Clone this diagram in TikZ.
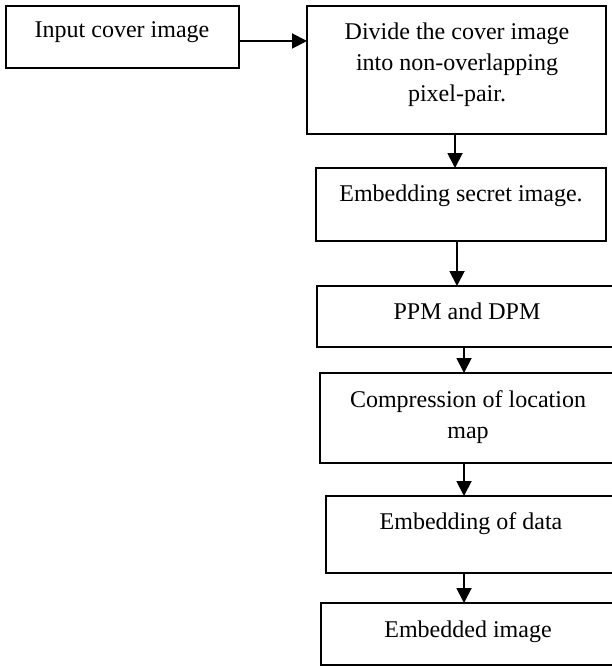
\documentclass[tikz,border=0pt]{standalone}
\usepackage{fontspec}
\setmainfont{Liberation Serif}
\usetikzlibrary{arrows.meta}
\begin{document}
\begin{tikzpicture}[x=1pt,y=-1pt,
  box/.style={draw,line width=1.9pt,minimum width=#1,inner sep=0pt,outer sep=0pt},
  lbl/.style={font=\fontsize{24}{31}\selectfont,inner sep=0pt,anchor=base,align=center},
  arr/.style={line width=1.9pt,-{Triangle[length=15pt,width=15pt]}}]
\useasboundingbox (0,0) rectangle (612,666);
\clip (0,0) rectangle (612,666);
\fill[white] (0,0) rectangle (612,666);
% boxes
\node[box=233pt,minimum height=62pt] (b1) at (122.5,37) {};
\node[box=299pt,minimum height=128pt] (b2) at (456.5,70) {};
\node[box=290pt,minimum height=73pt] (b3) at (461,204.5) {};
\node[box=301pt,minimum height=61pt] (b4) at (467.5,316.5) {};
\node[box=298pt,minimum height=90pt] (b5) at (469,418) {};
\node[box=292pt,minimum height=77pt] (b6) at (472,534.5) {};
\node[box=297pt,minimum height=62pt] (b7) at (469.5,634) {};
% texts
\node[lbl] (t1) at (122,38) {Input cover image};
\node[lbl] (t2) at (457,102) {Divide the cover image\\into non-overlapping\\pixel-pair.};
\node[lbl] (t3) at (461,201) {Embedding secret image.};
\node[lbl] (t4) at (467,319) {PPM and DPM};
\node[lbl] (t5) at (468,438) {Compression of location\\map};
\node[lbl] (t6) at (471,529) {Embedding of data};
\node[lbl] (t7) at (468,637) {Embedded image};
% arrow x positions
\coordinate (x2) at (455,0);
\coordinate (x3) at (457,0);
\coordinate (x4) at (464,0);
% connectors
\draw[arr] ([yshift=-4pt]b1.east) -- ([yshift=-4pt]b1.east -| b2.west);
\draw[arr] (b2.south -| x2) -- (b3.north -| x2);
\draw[arr] (b3.south -| x3) -- (b4.north -| x3);
\draw[arr] (b4.south -| x4) -- (b5.north -| x4);
\draw[arr] (b5.south -| x4) -- (b6.north -| x4);
\draw[arr] (b6.south -| x4) -- (b7.north -| x4);
\end{tikzpicture}
\end{document}
